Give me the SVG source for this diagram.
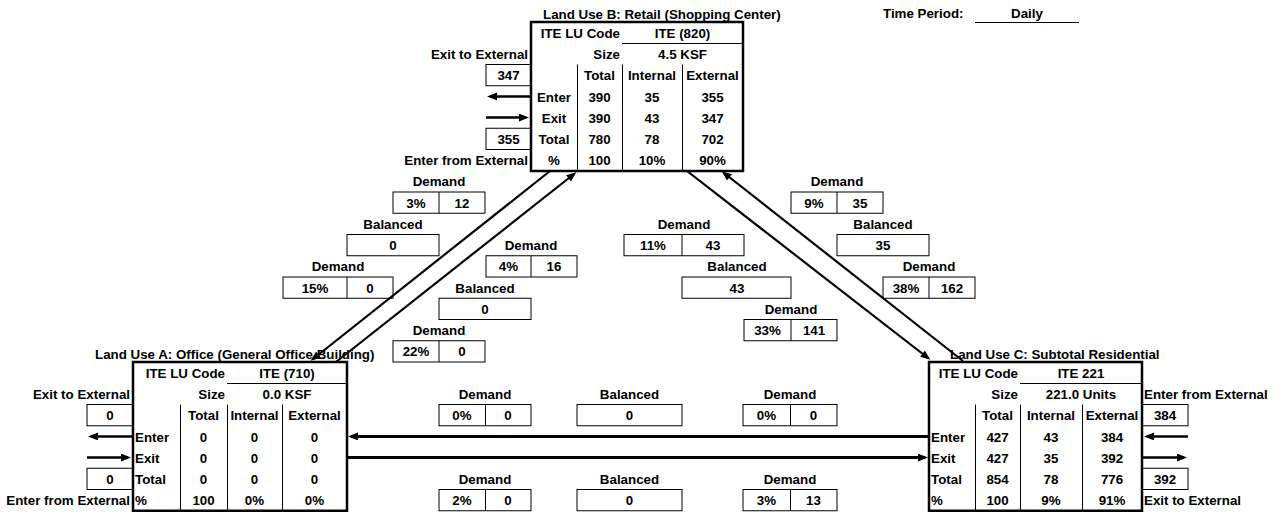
<svg xmlns="http://www.w3.org/2000/svg" width="1280" height="512" viewBox="0 0 1280 512">
<style>
.t{font-family:"Liberation Sans",Arial,sans-serif;font-weight:bold;font-size:13.33px;fill:#000}
.c{text-anchor:middle}
.r{text-anchor:end}
.box{fill:none;stroke:#000;stroke-width:1}
.tbl{fill:none;stroke:#000;stroke-width:2.5}
.thin{stroke:#000;stroke-width:1}
.arr{stroke:#000;stroke-width:2.5;fill:none;marker-end:url(#ah)}
.conn{stroke:#000;stroke-width:2.2;fill:none;marker-end:url(#ah)}
.connh{stroke:#000;stroke-width:3;fill:none;marker-end:url(#ah)}
</style>
<defs>
<marker id="ah" markerUnits="userSpaceOnUse" markerWidth="10" markerHeight="8" refX="7" refY="4" orient="auto">
<path d="M0,0 L10,4 L0,8 z" fill="#000"/>
</marker>
</defs>
<rect width="1280" height="512" fill="#fff"/>

<g id="time-period">
<text class="t" x="883" y="18">Time Period:</text>
<text class="t c" x="1027" y="18">Daily</text>
<line class="thin" x1="975" y1="22.5" x2="1079" y2="22.5"/>
</g>

<g id="landuse-b">
<text class="t" x="543" y="18.5">Land Use B: Retail (Shopping Center)</text>
<rect class="tbl" x="531" y="22" width="212" height="149"/>
<line class="thin" x1="622" y1="43.5" x2="743" y2="43.5"/>
<line class="thin" x1="577.5" y1="64.5" x2="577.5" y2="171"/>
<line class="thin" x1="622.5" y1="64.5" x2="622.5" y2="171"/>
<line class="thin" x1="682.5" y1="64.5" x2="682.5" y2="171"/>
<text class="t r" x="620" y="37.7">ITE LU Code</text>
<text class="t c" x="682.5" y="37.7">ITE (820)</text>
<text class="t r" x="620" y="59">Size</text>
<text class="t c" x="682.5" y="59">4.5 KSF</text>
<text class="t r" x="528" y="59">Exit to External</text>
<rect class="box" x="486" y="64.5" width="45" height="21.25"/>
<text class="t c" x="508.5" y="80.2">347</text>
<text class="t c" x="599.5" y="80.2">Total</text>
<text class="t c" x="652" y="80.2">Internal</text>
<text class="t c" x="712.5" y="80.2">External</text>
<text class="t c" x="554" y="101.5">Enter</text>
<text class="t c" x="599.5" y="101.5">390</text>
<text class="t c" x="652" y="101.5">35</text>
<text class="t c" x="712.5" y="101.5">355</text>
<text class="t c" x="554" y="122.7">Exit</text>
<text class="t c" x="599.5" y="122.7">390</text>
<text class="t c" x="652" y="122.7">43</text>
<text class="t c" x="712.5" y="122.7">347</text>
<rect class="box" x="486" y="128.25" width="45" height="21.25"/>
<text class="t c" x="508.5" y="144">355</text>
<text class="t c" x="554" y="144">Total</text>
<text class="t c" x="599.5" y="144">780</text>
<text class="t c" x="652" y="144">78</text>
<text class="t c" x="712.5" y="144">702</text>
<text class="t r" x="528" y="165.2">Enter from External</text>
<text class="t c" x="554" y="165.2">%</text>
<text class="t c" x="599.5" y="165.2">100</text>
<text class="t c" x="652" y="165.2">10%</text>
<text class="t c" x="712.5" y="165.2">90%</text>
<line class="arr" x1="530" y1="96.4" x2="490" y2="96.4"/>
<line class="arr" x1="486" y1="117.6" x2="526" y2="117.6"/>
</g>

<g id="landuse-a">
<text class="t" x="95" y="358.5">Land Use A: Office (General Office Building)</text>
<rect class="tbl" x="133" y="362" width="214" height="148.75"/>
<line class="thin" x1="227" y1="383.5" x2="347" y2="383.5"/>
<line class="thin" x1="180.5" y1="404.5" x2="180.5" y2="510.75"/>
<line class="thin" x1="227.5" y1="404.5" x2="227.5" y2="510.75"/>
<line class="thin" x1="282.5" y1="404.5" x2="282.5" y2="510.75"/>
<text class="t r" x="225" y="377.7">ITE LU Code</text>
<text class="t c" x="287" y="377.7">ITE (710)</text>
<text class="t r" x="225" y="399">Size</text>
<text class="t c" x="287" y="399">0.0 KSF</text>
<text class="t r" x="130" y="399">Exit to External</text>
<rect class="box" x="87" y="404.5" width="46" height="21.25"/>
<text class="t c" x="110" y="420.2">0</text>
<text class="t c" x="203.5" y="420.2">Total</text>
<text class="t c" x="254.5" y="420.2">Internal</text>
<text class="t c" x="314.5" y="420.2">External</text>
<text class="t" x="135" y="441.5">Enter</text>
<text class="t c" x="203.5" y="441.5">0</text>
<text class="t c" x="254.5" y="441.5">0</text>
<text class="t c" x="314.5" y="441.5">0</text>
<text class="t" x="135" y="462.7">Exit</text>
<text class="t c" x="203.5" y="462.7">0</text>
<text class="t c" x="254.5" y="462.7">0</text>
<text class="t c" x="314.5" y="462.7">0</text>
<rect class="box" x="87" y="468.25" width="46" height="21.25"/>
<text class="t c" x="110" y="484">0</text>
<text class="t" x="135" y="484">Total</text>
<text class="t c" x="203.5" y="484">0</text>
<text class="t c" x="254.5" y="484">0</text>
<text class="t c" x="314.5" y="484">0</text>
<text class="t r" x="130" y="505.2">Enter from External</text>
<text class="t" x="135" y="505.2">%</text>
<text class="t c" x="203.5" y="505.2">100</text>
<text class="t c" x="254.5" y="505.2">0%</text>
<text class="t c" x="314.5" y="505.2">0%</text>
<line class="arr" x1="132" y1="436.4" x2="91" y2="436.4"/>
<line class="arr" x1="87" y1="457.6" x2="128" y2="457.6"/>
</g>

<g id="landuse-c">
<text class="t" x="950" y="358.5">Land Use C: Subtotal Residential</text>
<rect class="tbl" x="929" y="362" width="213" height="148.75"/>
<line class="thin" x1="1020" y1="383.5" x2="1142" y2="383.5"/>
<line class="thin" x1="975.5" y1="404.5" x2="975.5" y2="510.75"/>
<line class="thin" x1="1020.5" y1="404.5" x2="1020.5" y2="510.75"/>
<line class="thin" x1="1082.5" y1="404.5" x2="1082.5" y2="510.75"/>
<text class="t r" x="1018" y="377.7">ITE LU Code</text>
<text class="t c" x="1081" y="377.7">ITE 221</text>
<text class="t r" x="1018" y="399">Size</text>
<text class="t c" x="1081" y="399">221.0 Units</text>
<text class="t" x="1144" y="399">Enter from External</text>
<rect class="box" x="1142" y="404.5" width="46" height="21.25"/>
<text class="t c" x="1165" y="420.2">384</text>
<text class="t c" x="997.5" y="420.2">Total</text>
<text class="t c" x="1051" y="420.2">Internal</text>
<text class="t c" x="1112" y="420.2">External</text>
<text class="t" x="931" y="441.5">Enter</text>
<text class="t c" x="997.5" y="441.5">427</text>
<text class="t c" x="1051" y="441.5">43</text>
<text class="t c" x="1112" y="441.5">384</text>
<text class="t" x="931" y="462.7">Exit</text>
<text class="t c" x="997.5" y="462.7">427</text>
<text class="t c" x="1051" y="462.7">35</text>
<text class="t c" x="1112" y="462.7">392</text>
<rect class="box" x="1142" y="468.25" width="46" height="21.25"/>
<text class="t c" x="1165" y="484">392</text>
<text class="t" x="931" y="484">Total</text>
<text class="t c" x="997.5" y="484">854</text>
<text class="t c" x="1051" y="484">78</text>
<text class="t c" x="1112" y="484">776</text>
<text class="t" x="1144" y="505.2">Exit to External</text>
<text class="t" x="931" y="505.2">%</text>
<text class="t c" x="997.5" y="505.2">100</text>
<text class="t c" x="1051" y="505.2">9%</text>
<text class="t c" x="1112" y="505.2">91%</text>
<line class="arr" x1="1188" y1="436.4" x2="1147" y2="436.4"/>
<line class="arr" x1="1143" y1="457.6" x2="1184" y2="457.6"/>
</g>

<g id="ab-demand-1">
<text class="t c" x="439" y="186.45">Demand</text>
<rect class="box" x="393" y="192" width="92" height="21.25"/>
<line class="thin" x1="439" y1="192" x2="439" y2="213.25"/>
<text class="t c" x="416" y="207.7">3%</text>
<text class="t c" x="462" y="207.7">12</text>
</g>
<g id="ab-balanced-1">
<text class="t c" x="393" y="228.95">Balanced</text>
<rect class="box" x="347" y="234.5" width="92" height="21.25"/>
<text class="t c" x="393" y="250.2">0</text>
</g>
<g id="ab-demand-2">
<text class="t c" x="338" y="271.45">Demand</text>
<rect class="box" x="283" y="277" width="110" height="21.25"/>
<line class="thin" x1="347" y1="277" x2="347" y2="298.25"/>
<text class="t c" x="315" y="292.7">15%</text>
<text class="t c" x="370" y="292.7">0</text>
</g>
<g id="ba-demand-1">
<text class="t c" x="531" y="250.2">Demand</text>
<rect class="box" x="486" y="255.75" width="91" height="21.25"/>
<line class="thin" x1="531" y1="255.75" x2="531" y2="277"/>
<text class="t c" x="508.5" y="271.45">4%</text>
<text class="t c" x="554" y="271.45">16</text>
</g>
<g id="ba-balanced">
<text class="t c" x="485" y="292.7">Balanced</text>
<rect class="box" x="439" y="298.25" width="92" height="21.25"/>
<text class="t c" x="485" y="313.95">0</text>
</g>
<g id="ba-demand-2">
<text class="t c" x="439" y="335.2">Demand</text>
<rect class="box" x="393" y="340.75" width="92" height="21.25"/>
<line class="thin" x1="439" y1="340.75" x2="439" y2="362"/>
<text class="t c" x="416" y="356.45">22%</text>
<text class="t c" x="462" y="356.45">0</text>
</g>

<g id="bc-demand-1">
<text class="t c" x="684" y="228.95">Demand</text>
<rect class="box" x="624" y="234.5" width="120" height="21.25"/>
<line class="thin" x1="682" y1="234.5" x2="682" y2="255.75"/>
<text class="t c" x="653" y="250.2">11%</text>
<text class="t c" x="713" y="250.2">43</text>
</g>
<g id="bc-balanced">
<text class="t c" x="737" y="271.45">Balanced</text>
<rect class="box" x="682" y="277" width="109" height="21.25"/>
<text class="t c" x="737" y="292.7">43</text>
</g>
<g id="bc-demand-2">
<text class="t c" x="791" y="313.95">Demand</text>
<rect class="box" x="744" y="319.5" width="93" height="21.25"/>
<line class="thin" x1="791" y1="319.5" x2="791" y2="340.75"/>
<text class="t c" x="767.5" y="335.2">33%</text>
<text class="t c" x="814" y="335.2">141</text>
</g>
<g id="cb-demand-1">
<text class="t c" x="837" y="186.45">Demand</text>
<rect class="box" x="791" y="192" width="92" height="21.25"/>
<line class="thin" x1="837" y1="192" x2="837" y2="213.25"/>
<text class="t c" x="814" y="207.7">9%</text>
<text class="t c" x="860" y="207.7">35</text>
</g>
<g id="cb-balanced">
<text class="t c" x="883" y="228.95">Balanced</text>
<rect class="box" x="837" y="234.5" width="92" height="21.25"/>
<text class="t c" x="883" y="250.2">35</text>
</g>
<g id="cb-demand-2">
<text class="t c" x="929" y="271.45">Demand</text>
<rect class="box" x="883" y="277" width="92" height="21.25"/>
<line class="thin" x1="929" y1="277" x2="929" y2="298.25"/>
<text class="t c" x="906" y="292.7">38%</text>
<text class="t c" x="952" y="292.7">162</text>
</g>

<g id="ca-demand-1">
<text class="t c" x="485" y="398.95">Demand</text>
<rect class="box" x="439" y="404.5" width="92" height="21.25"/>
<line class="thin" x1="485.5" y1="404.5" x2="485.5" y2="425.75"/>
<text class="t c" x="462" y="420.2">0%</text>
<text class="t c" x="508" y="420.2">0</text>
</g>
<g id="ca-balanced">
<text class="t c" x="629.5" y="398.95">Balanced</text>
<rect class="box" x="577" y="404.5" width="105" height="21.25"/>
<text class="t c" x="629.5" y="420.2">0</text>
</g>
<g id="ca-demand-2">
<text class="t c" x="790" y="398.95">Demand</text>
<rect class="box" x="743" y="404.5" width="94" height="21.25"/>
<line class="thin" x1="790.5" y1="404.5" x2="790.5" y2="425.75"/>
<text class="t c" x="766.5" y="420.2">0%</text>
<text class="t c" x="813.5" y="420.2">0</text>
</g>
<g id="ac-demand-1">
<text class="t c" x="485" y="483.95">Demand</text>
<rect class="box" x="439" y="489.5" width="92" height="21.25"/>
<line class="thin" x1="485.5" y1="489.5" x2="485.5" y2="510.75"/>
<text class="t c" x="462" y="505.2">2%</text>
<text class="t c" x="508" y="505.2">0</text>
</g>
<g id="ac-balanced">
<text class="t c" x="629.5" y="483.95">Balanced</text>
<rect class="box" x="577" y="489.5" width="105" height="21.25"/>
<text class="t c" x="629.5" y="505.2">0</text>
</g>
<g id="ac-demand-2">
<text class="t c" x="790" y="483.95">Demand</text>
<rect class="box" x="743" y="489.5" width="94" height="21.25"/>
<line class="thin" x1="790.5" y1="489.5" x2="790.5" y2="510.75"/>
<text class="t c" x="766.5" y="505.2">3%</text>
<text class="t c" x="813.5" y="505.2">13</text>
</g>

<g id="connectors">
<line class="conn" x1="550" y1="171" x2="313" y2="359"/>
<line class="conn" x1="336" y1="362" x2="574" y2="174"/>
<line class="conn" x1="687" y1="171" x2="928" y2="358"/>
<line class="conn" x1="963" y1="361" x2="724" y2="173"/>
<line class="connh" x1="929" y1="436.4" x2="351" y2="436.4"/>
<line class="connh" x1="347" y1="457.6" x2="925" y2="457.6"/>
</g>
</svg>
